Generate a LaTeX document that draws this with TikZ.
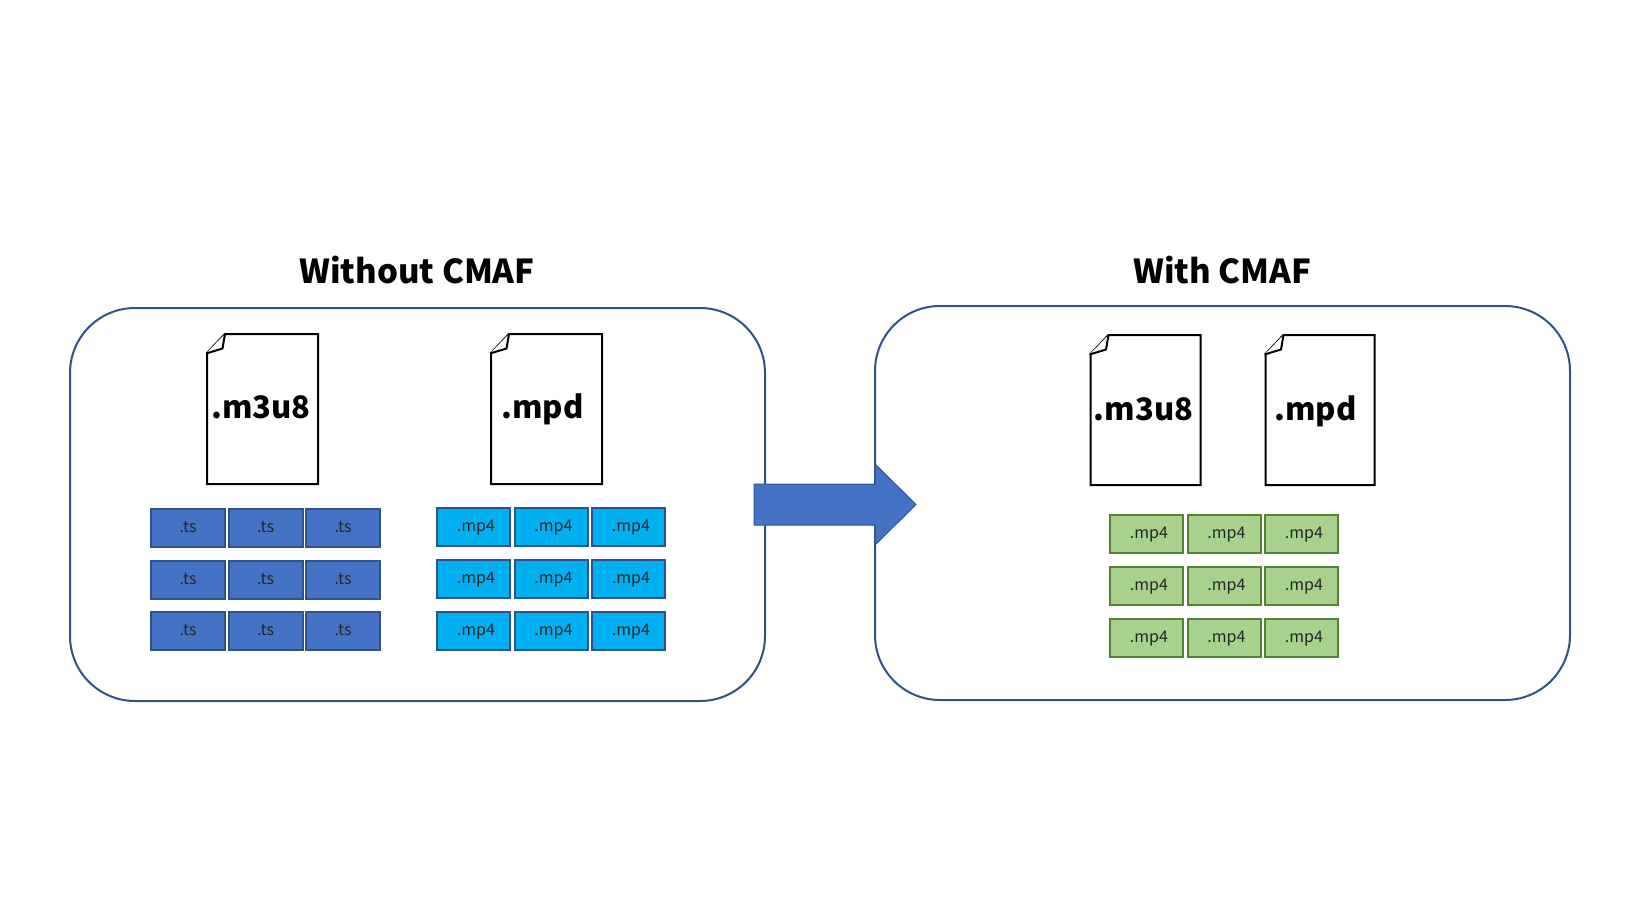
\documentclass[tikz,border=0pt]{standalone}
\usepackage{fontspec}
\usepackage{xcolor}
\setmainfont{Noto Sans CJK JP}
\usetikzlibrary{calc}
\definecolor{panelline}{HTML}{2F528F}
\definecolor{tsfill}{HTML}{4472C4}
\definecolor{mpfill}{HTML}{00B0F0}
\definecolor{greenfill}{HTML}{A9D18E}
\definecolor{greenline}{HTML}{548235}
\tikzset{
  panel/.style={draw=panelline, line width=2pt, fill=white},
  docfile/.style={draw=black, line width=2pt, fill=white, line join=miter},
  doctext/.style={anchor=base, font=\fontsize{31}{31}\selectfont\bfseries, text=black},
  title/.style={anchor=base, font=\fontsize{33}{33}\selectfont\bfseries, text=black},
  segcell/.style={line width=2pt, inner sep=0pt, outer sep=0pt, text=black!85,
    font=\fontsize{16}{16}\selectfont, minimum height=38pt, text height=13pt, text depth=3.5pt},
  tscell/.style={segcell, draw=panelline, fill=tsfill, minimum width=74pt},
  mpcell/.style={segcell, draw=panelline, fill=mpfill, minimum width=73pt,
    execute at begin node=\hspace*{5pt}},
  greencell/.style={segcell, draw=greenline, fill=greenfill, minimum width=73pt,
    execute at begin node=\hspace*{5pt}},
  bigarrow/.style={draw=panelline, line width=1pt, fill=tsfill, line join=miter},
}
\begin{document}
\begin{tikzpicture}[x=1pt,y=-1pt]
  \useasboundingbox (0,0) rectangle (1647,911);
  % panels
  \draw[panel, rounded corners=65pt] (70,308) rectangle (765,701);
  \draw[panel, rounded corners=65pt] (875,306) rectangle (1570,700);
  \node[title] (titleleft) at (417,283) {Without CMAF};
  \node[title] (titleright) at (1222.5,283) {With CMAF};
  % manifest files
  \foreach \nm/\fx/\fw/\ft/\bx/\by/\lab in {
      mleft/207/111/334/261/418/.m3u8,
      dleft/491/111/334/542.5/418/.mpd,
      mright/1090.5/110/335/1143.5/420/.m3u8,
      dright/1265.5/109/335/1315.5/420/.mpd}{
    \draw[docfile] (\fx+18,\ft) -- (\fx+\fw,\ft) -- (\fx+\fw,\ft+150) -- (\fx,\ft+150)
      -- (\fx,\ft+19) -- cycle;
    \draw[docfile] (\fx-1,\ft+19.5) -- (\fx+15.5,\ft+14.5) -- (\fx+18,\ft);
    \node[doctext] (\nm) at (\bx,\by) {\lab};
  }
  % segments
  \foreach \r/\cy in {1/527.5,2/579.5,3/631}{
    \foreach \c/\cx in {1/188,2/265.5,3/343}{
      \node[tscell] (ts\r\c) at (\cx,\cy) {.ts};
    }
  }
  \foreach \r/\cy in {1/527,2/579,3/631}{
    \foreach \c/\cx in {1/473.5,2/551,3/628.5}{
      \node[mpcell] (mp\r\c) at (\cx,\cy) {.mp4};
    }
  }
  \foreach \r/\cy in {1/534,2/586,3/638}{
    \foreach \c/\cx in {1/1146.5,2/1224,3/1301.5}{
      \node[greencell] (gr\r\c) at (\cx,\cy) {.mp4};
    }
  }
  % arrow
  \draw[bigarrow] (754,484) -- (875,484) -- (875,464) -- (916,504.5) -- (875,545)
    -- (875,525) -- (754,525) -- cycle;
\end{tikzpicture}
\end{document}
